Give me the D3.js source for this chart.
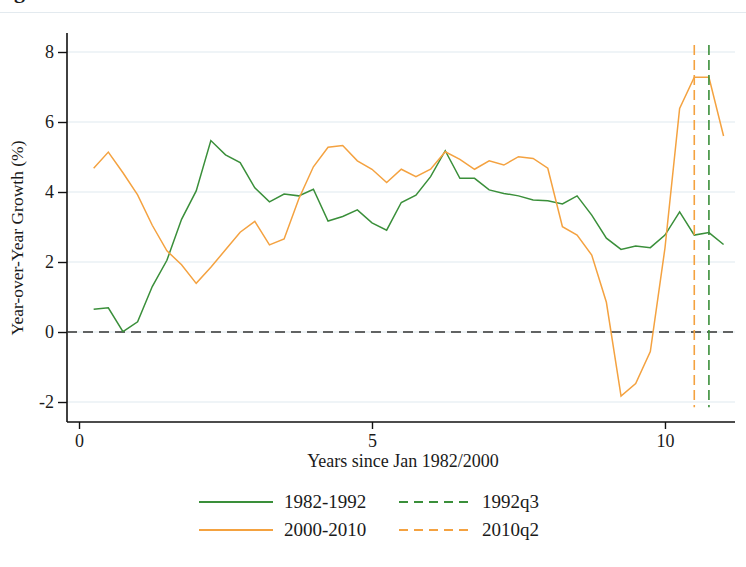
<!DOCTYPE html>
<html>
<head>
<meta charset="utf-8">
<script src="https://cdn.jsdelivr.net/npm/d3@7"></script>
<style>
  body { margin: 0; background: #fff; }
  text { font-family: "Liberation Serif", "Times New Roman", serif; fill: #1a1a1a; }
</style>
</head>
<body>
<script>
// quarterly growth, t = 0.25 .. 11.0 years since Jan
var quarters = d3.range(1, 45).map(function(i) { return i / 4; });
var growth1982 = [0.65, 0.69, 0.01, 0.29, 1.3, 2.05, 3.22, 4.03, 5.47, 5.06, 4.84, 4.12,
  3.72, 3.94, 3.89, 4.08, 3.17, 3.3, 3.49, 3.12, 2.91, 3.7, 3.91, 4.44,
  5.18, 4.39, 4.39, 4.06, 3.96, 3.89, 3.77, 3.75, 3.66, 3.89, 3.34, 2.68,
  2.36, 2.46, 2.41, 2.77, 3.43, 2.77, 2.84, 2.5];
var growth2000 = [4.68, 5.14, 4.55, 3.92, 3.05, 2.32, 1.92, 1.39, 1.85, 2.35, 2.85, 3.16,
  2.49, 2.66, 3.8, 4.72, 5.28, 5.33, 4.89, 4.65, 4.27, 4.65, 4.44, 4.65,
  5.15, 4.93, 4.65, 4.89, 4.77, 5.01, 4.96, 4.68, 3.01, 2.77, 2.2, 0.85,
  -1.83, -1.47, -0.56, 2.4, 6.39, 7.28, 7.28, 5.6];
var markerNames = ["1992q3", "2010q2"];
var markerTimes = [10.75, 10.5];
var seriesNames = ["1982-1992", "2000-2010"];
var yTicks = [-2, 0, 2, 4, 6, 8];
var xTicks = [0, 5, 10];

var green = "#3a8f3a", orange = "#f4a240";

var svg = d3.select("body").append("svg")
  .attr("width", 746).attr("height", 567);

// cropped title remnant and separator
svg.append("text").attr("x", 14).attr("y", -2)
  .style("font-weight", "bold").style("font-size", "22px").text("g");
svg.append("line").attr("x1", 0).attr("x2", 746).attr("y1", 12.5).attr("y2", 12.5)
  .attr("stroke", "#e3eaef").attr("stroke-width", 1.2);

var x = d3.scaleLinear().domain([-0.205, 11.195]).range([67, 735]);
var y = d3.scaleLinear().domain([-2.571, 8.543]).range([422, 33]);

// grid
svg.append("g").selectAll("line").data(yTicks).enter().append("line")
  .attr("x1", 67).attr("x2", 735)
  .attr("y1", function(d) { return y(d); }).attr("y2", function(d) { return y(d); })
  .attr("stroke", "#eaf1f4").attr("stroke-width", 1.5);

// axes
var yAxis = svg.append("g").attr("transform", "translate(67,0)")
  .call(d3.axisLeft(y).tickValues(yTicks).tickSize(9).tickPadding(4).tickFormat(String));
var xAxis = svg.append("g").attr("transform", "translate(0,422)")
  .call(d3.axisBottom(x).tickValues(xTicks).tickSize(7).tickPadding(5).tickFormat(String));
[yAxis, xAxis].forEach(function(a) {
  a.select(".domain").attr("stroke", "#111").attr("stroke-width", 1.6);
  a.selectAll(".tick line").attr("stroke", "#111").attr("stroke-width", 1.4);
  a.selectAll(".tick text").style("font-size", "18px").style("font-family", "Liberation Serif").attr("fill", "#1a1a1a");
});
xAxis.select(".domain").attr("d", "M67,0H735");
yAxis.select(".domain").attr("d", "M0,33V422");

// axis titles
svg.append("text").attr("x", 403).attr("y", 467).attr("text-anchor", "middle")
  .style("font-size", "18px").text("Years since Jan 1982/2000");
svg.append("text").attr("transform", "translate(23,238) rotate(-90)").attr("text-anchor", "middle")
  .style("font-size", "17.5px").text("Year-over-Year Growth (%)");

// zero line
svg.append("line").attr("x1", 67).attr("x2", 735).attr("y1", y(0)).attr("y2", y(0))
  .attr("stroke", "#333").attr("stroke-width", 1.6).attr("stroke-dasharray", "10,6");

// series
var line = d3.line().x(function(d) { return x(d[0]); }).y(function(d) { return y(d[1]); });
[[growth1982, green], [growth2000, orange]].forEach(function(s) {
  svg.append("path").datum(d3.zip(quarters, s[0]))
    .attr("d", line).attr("fill", "none")
    .attr("stroke", s[1]).attr("stroke-width", 1.5).attr("stroke-linejoin", "miter");
});

// vertical markers
var markerColors = [green, orange];
markerTimes.forEach(function(t, i) {
  svg.append("line").attr("x1", x(t)).attr("x2", x(t))
    .attr("y1", y(8.2)).attr("y2", y(-2.15))
    .attr("stroke", markerColors[i]).attr("stroke-width", 1.6).attr("stroke-dasharray", "10,5");
});

// legend
var legendRows = [502, 530];
seriesNames.forEach(function(n, i) {
  var c = markerColors[i];
  var ly = legendRows[i];
  svg.append("line").attr("x1", 199).attr("x2", 273).attr("y1", ly).attr("y2", ly)
    .attr("stroke", c).attr("stroke-width", 2);
  svg.append("text").attr("x", 284).attr("y", ly + 6).style("font-size", "19px").text(n);
  svg.append("line").attr("x1", 399).attr("x2", 470).attr("y1", ly).attr("y2", ly)
    .attr("stroke", c).attr("stroke-width", 2).attr("stroke-dasharray", "9,6");
  svg.append("text").attr("x", 482).attr("y", ly + 6).style("font-size", "19px").text(markerNames[i]);
});
</script>
</body>
</html>
